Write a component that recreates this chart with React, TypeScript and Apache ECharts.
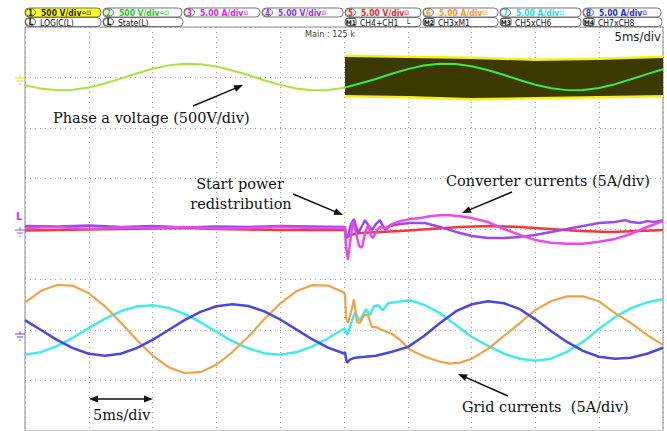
import React, { useEffect, useRef } from "react";
import * as echarts from "echarts";

// ---- data (time in ms, voltage in V, currents in A) ----
const sampleTimes = [0, 1.25, 2.5, 3.75, 5, 6.25, 7.5, 8.75, 10, 11.25, 12.5, 13.75, 15, 16.25, 17.5, 18.75, 20, 21.25, 22.5, 23.75, 25, 26.25, 27.5, 28.75, 30, 31.25, 32.5, 33.75, 35, 36.25, 37.5, 38.75, 40, 41.25, 42.5, 43.75, 45, 46.25, 47.5, 48.75, 50];
const phaseVoltage = [-76, -110, -126, -122, -99, -60, -11, 40, 86, 120, 136, 132, 109, 70, 25, -27, -73, -109, -126, -124, -101, -59, -15, 37, 83, 119, 136, 133, 111, 74, 27, -24, -72, -106, -125, -124, -103, -66, -18, 33, 81];
const switchingTop = [[25.08, 216], [30, 206], [35, 196], [40, 176], [45, 186], [50, 206]];
const switchingBottom = [[25.08, -186], [30, -196], [35, -216], [40, -206], [45, -196], [50, -186]];

const convPinkBefore = [[0, 0.1], [2.5, 0.2], [5, 0.0], [7.5, 0.15], [10, 0.1], [12.5, 0.2], [15, 0.05], [17.5, 0.1], [20, 0.2], [22.5, 0.1], [25, 0.1]];
const convPinkAfter = [[25.08, 0.1], [25.16, -1.86], [25.31, -3.04], [25.47, -1.37], [25.71, 0.78], [25.94, -0.39], [26.18, -1.67], [26.41, -1.86], [26.65, -0.39], [26.88, 0.39], [27.12, -0.69], [27.27, -0.88], [27.59, -0.1], [27.82, 0.2], [28.21, 0.1], [28.76, 0.49], [29.39, 0.78], [30.17, 0.98], [30.96, 1.08], [31.74, 1.27], [32.52, 1.37], [33.31, 1.37], [34.09, 1.27], [35.03, 1.08], [36.29, 0.69], [37.54, 0], [38.79, -0.59], [39.97, -1.08], [41.22, -1.37], [42.48, -1.47], [43.73, -1.47], [44.98, -1.27], [46.24, -0.98], [47.49, -0.49], [48.75, 0.2], [50, 0.78]];
const convPurpleBefore = [[0, 0.3], [2.5, 0.25], [5, 0.35], [7.5, 0.2], [10, 0.3], [12.5, 0.15], [15, 0.25], [17.5, 0.2], [20, 0.3], [22.5, 0.25], [25, 0.2]];
const convPurpleAfter = [[25.08, 0.2], [25.16, -0.88], [25.31, -0.69], [25.55, 0.49], [25.78, 0.98], [26.1, -0.39], [26.33, 0.1], [26.65, 0.88], [26.96, 0.29], [27.19, -0.1], [27.51, 0.49], [27.82, 0.88], [28.21, -0.1], [28.61, 0.29], [29.39, 0.49], [30.17, 0.59], [31.35, 0.59], [32.52, 0.2], [33.78, -0.29], [35.03, -0.69], [36.29, -0.88], [37.54, -0.88], [38.79, -0.78], [39.97, -0.59], [41.22, -0.29], [42.48, 0], [43.73, 0.29], [44.98, 0.59], [46.24, 0.69], [47.02, 0.88], [47.49, 0.69], [48.2, 0.59], [48.75, 0.78], [49.37, 0.69], [50, 0.88]];
const convRedBefore = [[0, -0.15], [2.5, -0.1], [5, -0.05], [7.5, 0], [10, 0.05], [12.5, 0.1], [15, 0], [17.5, -0.05], [20, -0.1], [22.5, -0.1], [25, -0.1]];
const convRedAfter = [[25.08, -0.1], [25.16, -0.88], [25.47, -0.59], [26.25, -0.39], [27.82, -0.29], [29.39, -0.2], [31.74, 0], [34.09, 0.2], [36.44, 0.29], [38.79, 0.2], [41.14, 0], [43.5, -0.2], [45.85, -0.29], [48.2, -0.2], [50, -0.1]];

const gridOrangeBefore = [2.72, 3.88, 4.46, 4.38, 3.64, 2.37, 0.74, -0.97, -2.53, -3.68, -4.26, -4.18, -3.44, -2.18, -0.67, 1.07, 2.63, 3.83, 4.44, 4.4, 3.71];
const gridOrangeAfter = [[25.08, 3.43], [25.16, 1.27], [25.31, 0.69], [25.55, 1.76], [25.78, 3.04], [26.02, 0.78], [26.25, 0.69], [26.57, 1.47], [26.88, 1.47], [27.19, 0.29], [27.51, 0.29], [27.82, 0.1], [28.76, -0.39], [29.39, -0.98], [30.17, -1.96], [31.35, -2.65], [32.52, -3.14], [33.31, -3.33], [34.09, -3.23], [35.03, -2.84], [36.29, -1.86], [37.54, -0.59], [38.79, 0.69], [39.97, 1.96], [41.22, 2.84], [42.48, 3.33], [43.73, 3.33], [44.98, 2.84], [46.24, 1.67], [47.49, 0.69], [48.75, -0.49], [50, -1.47]];
const gridCyanBefore = [-2.44, -2.19, -1.6, -0.77, 0.18, 1.1, 1.85, 2.32, 2.44, 2.19, 1.6, 0.77, -0.18, -1.1, -1.81, -2.3, -2.45, -2.21, -1.65, -0.82, 0.12];
const gridCyanAfter = [[25.08, 0.1], [25.24, -0.49], [25.47, 0.29], [25.86, 1.76], [26.18, 0.98], [26.41, 1.27], [26.73, 2.06], [27.04, 1.47], [27.35, 2.35], [27.67, 2.45], [28.06, 1.96], [28.45, 2.65], [29.0, 2.74], [30.17, 2.94], [31.35, 2.45], [32.52, 1.67], [33.78, 0.49], [35.03, -0.69], [36.29, -1.57], [37.54, -2.35], [38.79, -2.84], [39.97, -3.04], [41.22, -2.84], [42.48, -2.16], [43.73, -1.18], [44.98, 0.1], [46.24, 1.27], [47.49, 2.16], [48.75, 2.74], [50, 3.04]];
const gridBlueBefore = [0.98, 0, -0.98, -1.8, -2.35, -2.55, -2.35, -1.8, -0.98, 0, 0.98, 1.8, 2.35, 2.55, 2.38, 1.84, 1.04, 0.06, -0.91, -1.75, -2.33];
const gridBlueAfter = [[25.08, -2.16], [25.16, -2.84], [25.24, -3.23], [25.47, -2.94], [25.86, -2.74], [26.65, -2.65], [27.51, -2.55], [28.76, -2.16], [30.02, -1.67], [31.27, -0.59], [32.52, 0.69], [33.78, 1.86], [35.03, 2.55], [36.29, 2.84], [37.54, 2.65], [38.79, 2.06], [39.97, 1.08], [41.22, -0.1], [42.48, -1.18], [43.73, -2.06], [44.98, -2.65], [46.24, -2.84], [47.49, -2.74], [48.75, -2.35], [50, -1.76]];

const channelLabels = ["500 V/div", "500 V/div", "5.00 A/div", "5.00 V/div", "5.00 V/div", "5.00 A/div", "5.00 A/div", "5.00 A/div"];
const channelIcons = ["≏⊡", "≏⊡", "⊟", "⊟", "⊟", "⊟", "⊟", "⊟"];
const mathLabels = [["L", "LOGIC(L)"], ["L", "State(L)"], ["M1", "CH4+CH1   └"], ["M2", "CH3xM1"], ["M3", "CH5xCH6"], ["M4", "CH7xCH8"]];

const SANS = "'DejaVu Sans Condensed', 'DejaVu Sans', sans-serif";
const SERIF = "'DejaVu Serif', serif";

function zipBefore(vals: number[]) {
  return vals.map((v, i) => [sampleTimes[i], v]);
}

function arrow(x1: number, y1: number, x2: number, y2: number, head = true) {
  const dx = x2 - x1, dy = y2 - y1;
  const len = Math.hypot(dx, dy);
  const ux = dx / len, uy = dy / len;
  const nx = -uy, ny = ux;
  const L = 9, W = 3.5;
  const mk = (tx: number, ty: number, sx: number, sy: number) => ({
    type: "polygon",
    z: 100,
    shape: { points: [[tx, ty], [tx - sx * L + nx * W, ty - sy * L + ny * W], [tx - sx * L - nx * W, ty - sy * L - ny * W]] },
    style: { fill: "#111" },
  });
  const out: any[] = [
    { type: "line", z: 100, shape: { x1, y1, x2: x2 - ux * 6, y2: y2 - uy * 6 }, style: { stroke: "#111", lineWidth: 1.5 } },
    mk(x2, y2, ux, uy),
  ];
  if (!head) {
    out[0].shape.x1 = x1 + ux * 6;
    out[0].shape.y1 = y1 + uy * 6;
    out.push(mk(x1, y1, -ux, -uy));
  }
  return out;
}

export default function App() {
  const ref = useRef<HTMLDivElement>(null);
  useEffect(() => {
    if (!ref.current) return;
    const chart = echarts.init(ref.current, undefined, { renderer: "svg" });

    const chColors = ["#2b2b00", "#22cc22", "#e020e0", "#9030f0", "#f02424", "#ff9424", "#22dede", "#2a2ae8"];
    const row1X = [25, 103, 184, 262, 345, 423, 500, 583, 663];
    const row2X = [25, 103, 345, 423, 500, 583];
    const row2End = [101, 183, 421, 498, 581, 662];

    const graphics: any[] = [];
    channelLabels.forEach((lab, i) => {
      const x = row1X[i], w = row1X[i + 1] - x - 2;
      graphics.push({ type: "rect", z: 100, shape: { x, y: 8, width: w, height: 9, r: 4 }, style: { fill: i === 0 ? "#ffff22" : "#fff", stroke: "#555", lineWidth: 0.8 } });
      graphics.push({ type: "ellipse", z: 101, shape: { cx: x + 5.5, cy: 12.5, rx: 5, ry: 4 }, style: { fill: i === 0 ? "#ffff22" : "#fff", stroke: "#555", lineWidth: 0.8 } });
      graphics.push({ type: "text", z: 102, style: { text: String(i + 1), x: x + 5.5, y: 13, fill: chColors[i], fontSize: 8, fontWeight: "bold", fontFamily: SANS, align: "center", verticalAlign: "middle" } });
      graphics.push({
        type: "text", z: 102,
        style: {
          text: `{a|${lab}}{b|${channelIcons[i]}}`, x: x + 16, y: 13, align: "left", verticalAlign: "middle",
          rich: {
            a: { fill: chColors[i], fontSize: 8.5, fontWeight: "bold", fontFamily: SANS },
            b: { fill: chColors[i], fontSize: 6.5, fontFamily: SANS },
          },
        },
      });
    });
    mathLabels.forEach((m, i) => {
      const x = row2X[i];
      graphics.push({ type: "rect", z: 100, shape: { x, y: 17.5, width: row2End[i] - x, height: 9, r: 4 }, style: { fill: "#fff", stroke: "#555", lineWidth: 0.8 } });
      if (m[0] === "L") {
        graphics.push({ type: "ellipse", z: 101, shape: { cx: x + 5.5, cy: 22, rx: 5, ry: 4 }, style: { fill: "#fff", stroke: "#333", lineWidth: 0.8 } });
      } else {
        graphics.push({ type: "rect", z: 101, shape: { x: x + 1, y: 18.5, width: 10, height: 7, r: 1 }, style: { fill: "#fff", stroke: "#333", lineWidth: 0.8 } });
      }
      graphics.push({ type: "text", z: 102, style: { text: m[0], x: x + 6, y: 22.5, fill: "#111", fontSize: m[0] === "L" ? 8 : 6.5, fontWeight: "bold", fontFamily: SANS, align: "center", verticalAlign: "middle" } });
      graphics.push({ type: "text", z: 102, style: { text: m[1], x: x + 15, y: 22.5, fill: "#111", fontSize: 8.5, fontFamily: SANS, align: "left", verticalAlign: "middle" } });
    });
    graphics.push({ type: "text", z: 102, style: { text: "Main : 125 k", x: 305, y: 34, fill: "#444", fontSize: 9, fontFamily: SANS, align: "left", verticalAlign: "middle" } });
    graphics.push({ type: "text", z: 102, style: { text: "5ms/div", x: 661, y: 36, fill: "#222", fontSize: 13, fontFamily: SANS, align: "right", verticalAlign: "middle" } });

    // ground markers
    const gnd = (y: number, color: string) => [
      { type: "line", z: 100, shape: { x1: 15, y1: y, x2: 25, y2: y }, style: { stroke: color, lineWidth: 1.2 } },
      { type: "line", z: 100, shape: { x1: 17, y1: y + 3, x2: 23, y2: y + 3 }, style: { stroke: color, lineWidth: 1.2 } },
      { type: "line", z: 100, shape: { x1: 19, y1: y + 6, x2: 21, y2: y + 6 }, style: { stroke: color, lineWidth: 1.2 } },
      { type: "line", z: 100, shape: { x1: 20, y1: y - 3, x2: 20, y2: y }, style: { stroke: color, lineWidth: 1.2 } },
    ];
    graphics.push(...gnd(78, "#e6e620"), ...gnd(230, "#a070e8"), ...gnd(334, "#6a6ae0"));
    graphics.push({ type: "text", z: 102, style: { text: "L", x: 19, y: 216, fill: "#e020e0", fontSize: 10, fontWeight: "bold", fontFamily: SANS, align: "center", verticalAlign: "middle" } });

    // annotations
    const ann = (text: string, x: number, y: number, align = "left") => ({ type: "text", z: 102, style: { text, x, y, fill: "#111", fontSize: 14.5, fontFamily: SERIF, align, verticalAlign: "middle" } });
    graphics.push(ann("Phase a voltage (500V/div)", 53, 118));
    graphics.push(ann("Start power", 240, 184, "center"));
    graphics.push(ann("redistribution", 241, 204, "center"));
    graphics.push(ann("Converter currents (5A/div)", 446, 181));
    graphics.push(ann("Grid currents  (5A/div)", 462, 407));
    graphics.push(ann("5ms/div", 93, 415));
    graphics.push(...arrow(193, 106, 243, 85));
    graphics.push(...arrow(293, 194, 343, 215));
    graphics.push(...arrow(512, 192, 462, 213));
    graphics.push(...arrow(508, 396, 458, 374));
    graphics.push(...arrow(89, 399, 153, 399, false));

    const line = (data: any[], color: string, yAxisIndex: number, width: number, z = 3) => ({
      type: "line", data, xAxisIndex: 0, yAxisIndex, showSymbol: false, symbol: "none", smooth: false, z,
      lineStyle: { color, width }, silent: true, clip: true,
    });

    const vData = phaseVoltage.map((v, i) => [sampleTimes[i], v]);

    chart.setOption({
      animation: false,
      backgroundColor: "#fff",
      grid: { left: 25, top: 27, width: 638, height: 408, show: true, borderColor: "#8a8a8a", borderWidth: 1, backgroundColor: "transparent" },
      xAxis: {
        type: "value", min: 0, max: 50, interval: 5,
        axisLine: { show: false }, axisTick: { show: false }, axisLabel: { show: false },
        splitLine: { show: true, lineStyle: { color: "#9a9a9a", width: 1, type: [1, 4] } },
      },
      yAxis: [
        { type: "value", min: 0, max: 8, interval: 1, axisLine: { show: false }, axisTick: { show: false }, axisLabel: { show: false }, splitLine: { show: true, lineStyle: { color: "#9a9a9a", width: 1, type: [1, 4] } } },
        { type: "value", min: -3500, max: 500, show: false, splitLine: { show: false } },
        { type: "value", min: -20, max: 20, show: false, splitLine: { show: false } },
        { type: "value", min: -10, max: 30, show: false, splitLine: { show: false } },
      ],
      series: [
        {
          type: "custom", xAxisIndex: 0, yAxisIndex: 1, silent: true, clip: true, z: 1,
          data: [switchingTop[0]],
          renderItem: (_p: any, api: any) => {
            const pts = switchingTop.map((p) => api.coord(p)).concat(switchingBottom.slice().reverse().map((p) => api.coord(p)));
            return { type: "polygon", shape: { points: pts }, style: { fill: "#3b3800" } };
          },
        },
        line(switchingTop, "#f2f21a", 1, 2.5, 2),
        line(switchingBottom, "#f2f21a", 1, 2.5, 2),
        line(vData.slice(0, 21), "#a8e23c", 1, 2),
        line(vData.slice(20), "#3cec3c", 1, 2),
        line([...convRedBefore, ...convRedAfter], "#ee3a3a", 2, 2.5),
        line([...convPurpleBefore, ...convPurpleAfter], "#9a4ae8", 2, 2.5),
        line([...convPinkBefore, ...convPinkAfter], "#e84ce8", 2, 2.5),
        line([...zipBefore(gridCyanBefore), ...gridCyanAfter], "#44eaea", 3, 2.5),
        line([...zipBefore(gridOrangeBefore), ...gridOrangeAfter], "#eea24a", 3, 2.2),
        line([...zipBefore(gridBlueBefore), ...gridBlueAfter], "#4848e0", 3, 2.5),
      ],
      graphic: graphics,
    });
    return () => chart.dispose();
  }, []);
  return <div ref={ref} style={{ position: "fixed", left: 0, top: 0, width: 667, height: 431, background: "#fff" }} />;
}
